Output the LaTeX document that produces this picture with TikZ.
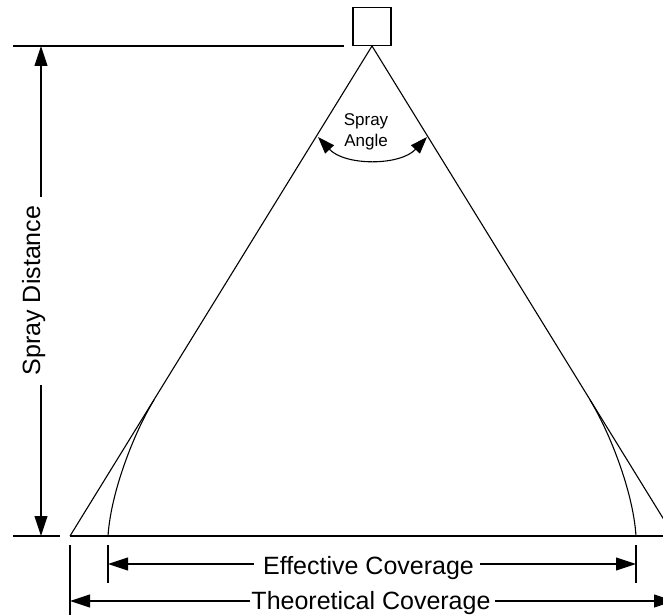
\documentclass[tikz,border=0pt]{standalone}
\usepackage{fontspec}
\setmainfont{Liberation Sans}
\usetikzlibrary{arrows.meta}
\begin{document}
\begin{tikzpicture}[x=1pt,y=-1pt,
  ln/.style={line width=1.1pt, line cap=butt},
  bigtxt/.style={font=\fontsize{25}{30}\selectfont, inner sep=0pt},
  smalltxt/.style={font=\fontsize{17}{21}\selectfont, inner sep=0pt}]
\useasboundingbox (0,0) rectangle (663,615);
\clip (0,0) rectangle (663,615);
% nozzle
\node[draw, line width=1.1pt, minimum width=38pt, minimum height=38pt, inner sep=0pt, anchor=south] (noz) at (372,46) {};
\coordinate (apex) at (noz.south);
\coordinate (bl) at (70,536);
\coordinate (br) at (674,536);
\coordinate (tl) at (154,400);
\coordinate (tr) at (590,400);
\coordinate (el) at (108,536);
\coordinate (er) at (636,536);
% cone
\draw[ln] (bl) -- (apex) -- (br);
\draw[ln] (bl) -- (br);
% effective curves
\draw[ln] (el) .. controls (111,490) and (135.6,429.8) .. (tl);
\draw[ln] (er) .. controls (633,490) and (608.4,429.8) .. (tr);
% extension lines
\coordinate (t1) at (13,46);
\coordinate (t2) at (344,46);
\coordinate (b1) at (13,536);
\coordinate (b2) at (60,536);
\draw[ln] (t1) -- (t2);
\draw[ln] (b1) -- (b2);
% spray distance
\coordinate (sdt) at (41,46);
\coordinate (sdb) at (41,536);
\node[bigtxt, rotate=90, anchor=base] (sd) at (40,290.5) {Spray Distance};
\draw[ln, -{Triangle[length=20pt,width=13pt]}] (41,197) -- (sdt);
\draw[ln, -{Triangle[length=20pt,width=13pt]}] (41,385) -- (sdb);
% effective coverage
\coordinate (e1a) at (108,545);
\coordinate (e1b) at (108,583);
\coordinate (e2a) at (636,545);
\coordinate (e2b) at (636,583);
\draw[ln] (e1a) -- (e1b);
\draw[ln] (e2a) -- (e2b);
\node[bigtxt, anchor=base] (eff) at (368.5,574) {Effective Coverage};
\draw[ln, -{Triangle[length=20pt,width=13pt]}] ([xshift=-9pt]eff.west |- 0,564) -- (108,564);
\draw[ln, -{Triangle[length=20pt,width=13pt]}] ([xshift=6pt]eff.east |- 0,564) -- (636,564);
% theoretical coverage
\coordinate (th1a) at (70,545);
\coordinate (th1b) at (70,615);
\draw[ln] (th1a) -- (th1b);
\node[bigtxt, anchor=base] (th) at (371,609.5) {Theoretical Coverage};
\draw[ln, -{Triangle[length=20pt,width=13pt]}] ([xshift=-1pt]th.west |- 0,601) -- (70,601);
\draw[ln, -{Triangle[length=20pt,width=13pt]}] ([xshift=4pt]th.east |- 0,601) -- (674,601);
% spray angle
\node[smalltxt, anchor=base] (sa1) at (366,125) {Spray};
\node[smalltxt, anchor=base] (sa2) at (366,146) {Angle};
\coordinate (al) at (318,137);
\coordinate (ar) at (427,137);
\draw[ln, {Triangle[length=17pt,width=12pt]}-{Triangle[length=17pt,width=12pt]}] (al) .. controls (345,166) and (400,166) .. (ar);
\end{tikzpicture}
\end{document}
